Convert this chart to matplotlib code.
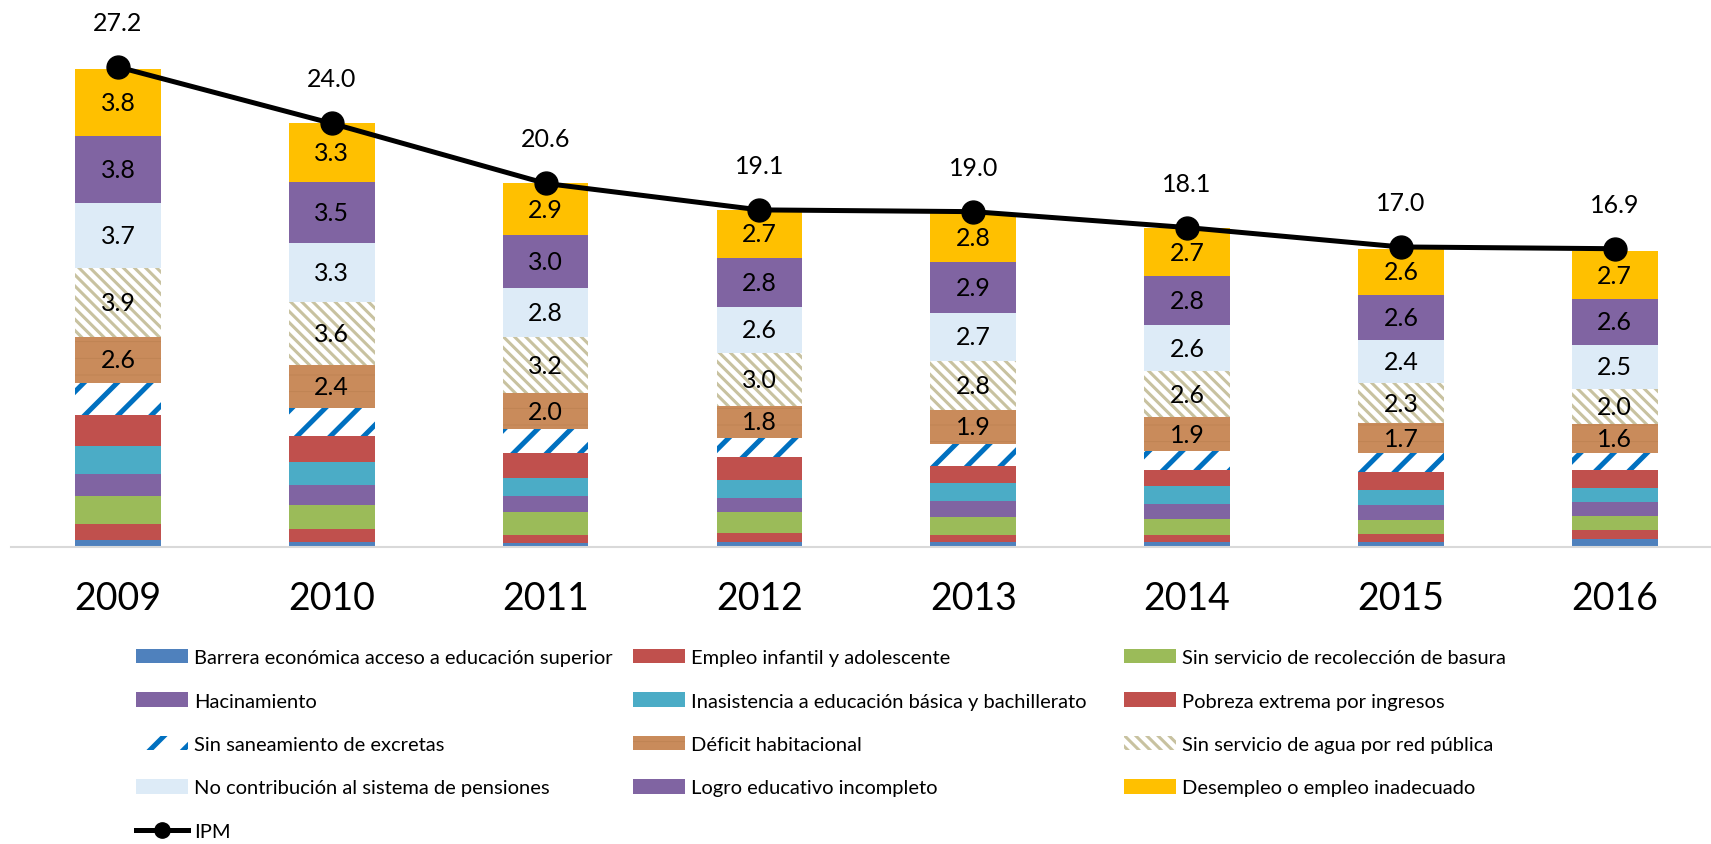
import numpy as np
import matplotlib
matplotlib.use("Agg")
import matplotlib.pyplot as plt
from matplotlib.lines import Line2D

plt.rcParams['font.family'] = ['Lato', 'DejaVu Sans']

# ---------------- Data ----------------
years = ["2009", "2010", "2011", "2012", "2013", "2014", "2015", "2016"]

barrera = [0.4, 0.3, 0.2, 0.3, 0.3, 0.3, 0.3, 0.45]
empleo_inf = [0.9, 0.7, 0.5, 0.5, 0.4, 0.4, 0.45, 0.5]
basura = [1.6, 1.4, 1.3, 1.2, 1.0, 0.9, 0.8, 0.8]
hacinamiento = [1.25, 1.1, 0.9, 0.8, 0.9, 0.85, 0.85, 0.8]
inasistencia = [1.55, 1.3, 1.0, 1.0, 1.0, 1.0, 0.85, 0.8]
pobreza = [1.8, 1.5, 1.4, 1.3, 1.0, 0.9, 1.0, 1.0]
saneamiento = [1.8, 1.6, 1.4, 1.1, 1.25, 1.1, 1.05, 1.0]
deficit = [2.6, 2.4, 2.0, 1.8, 1.9, 1.9, 1.7, 1.6]
agua = [3.9, 3.6, 3.2, 3.0, 2.8, 2.6, 2.3, 2.0]
pensiones = [3.7, 3.3, 2.8, 2.6, 2.7, 2.6, 2.4, 2.5]
logro = [3.8, 3.5, 3.0, 2.8, 2.9, 2.8, 2.6, 2.6]
desempleo = [3.8, 3.3, 2.9, 2.7, 2.8, 2.7, 2.6, 2.7]
ipm = [27.2, 24.0, 20.6, 19.1, 19.0, 18.1, 17.0, 16.9]

# (values, label, face, edge/hatch colour, hatch, hatch lw, show labels)
series = [
    (barrera, "Barrera económica acceso a educación superior", "#4F81BD", "#4F81BD", None, 1, False),
    (empleo_inf, "Empleo infantil y adolescente", "#C0504D", "#C0504D", None, 1, False),
    (basura, "Sin servicio de recolección de basura", "#9BBB59", "#9BBB59", None, 1, False),
    (hacinamiento, "Hacinamiento", "#8064A2", "#8064A2", None, 1, False),
    (inasistencia, "Inasistencia a educación básica y bachillerato", "#4BACC6", "#4BACC6", None, 1, False),
    (pobreza, "Pobreza extrema por ingresos", "#C0504D", "#C0504D", None, 1, False),
    (saneamiento, "Sin saneamiento de excretas", "white", "#0070C0", "/", 3.6, False),
    (deficit, "Déficit habitacional", "#C98B5B", "#BE8253", "-", 0.6, True),
    (agua, "Sin servicio de agua por red pública", "white", "#C8C2A0", "\\\\\\", 2.2, True),
    (pensiones, "No contribución al sistema de pensiones", "#DDEBF7", "#DDEBF7", None, 1, True),
    (logro, "Logro educativo incompleto", "#8064A2", "#8064A2", None, 1, True),
    (desempleo, "Desempleo o empleo inadecuado", "#FFC000", "#FFC000", None, 1, True),
]

W, H = 1711, 845
fig = plt.figure(figsize=(W / 100, H / 100), dpi=100)
ax = fig.add_axes([11 / W, 1 - 548 / H, 1 - 11 / W, 30 * 17.65 / H])

x = np.arange(len(years))
bottom = np.zeros(len(years))
handles = []
for vals, lab, fc, ec, hatch, hlw, show in series:
    plt.rcParams['hatch.linewidth'] = hlw
    bars = ax.bar(x, vals, 0.40, bottom=bottom, color=fc, edgecolor=ec,
                  hatch=hatch, linewidth=0, label=lab, zorder=2)
    for p in bars.patches:
        if hasattr(p, 'set_hatch_linewidth'):
            p.set_hatch_linewidth(hlw)
    handles.append(bars)
    if show:
        for xi, b, v in zip(x, bottom, vals):
            ax.text(xi, b + v / 2, f"{v:.1f}", ha='center', va='center',
                    fontsize=18, color='black', zorder=4)
    bottom = bottom + np.array(vals)

# IPM line
ax.plot(x, ipm, color='black', lw=3.6, marker='o', markersize=16.5, zorder=5)
for xi, v in zip(x, ipm):
    ax.annotate(f"{v:.1f}", xy=(xi, v), xytext=(0, 32), textcoords='offset points',
                ha='center', va='center', fontsize=18)

ax.set_xlim(-0.5, 7.45)
ax.set_ylim(0, 30)
ax.set_xticks(x)
ax.set_xticklabels(years, fontsize=27)
ax.tick_params(axis='x', length=0, pad=24)
ax.set_yticks([])
for s in ['top', 'right', 'left']:
    ax.spines[s].set_visible(False)
ax.spines['bottom'].set_color('#D9D9D9')
ax.spines['bottom'].set_linewidth(1.5)

# ---------------- Legend (3 columns, row-major order) ----------------
ipm_handle = Line2D([], [], color='black', lw=3.6, marker='o', markersize=11)
cols = [
    ([handles[0], handles[3], handles[6], handles[9], ipm_handle],
     [series[0][1], series[3][1], series[6][1], series[9][1], "IPM"], 136),
    ([handles[1], handles[4], handles[7], handles[10]],
     [series[1][1], series[4][1], series[7][1], series[10][1]], 633),
    ([handles[2], handles[5], handles[8], handles[11]],
     [series[2][1], series[5][1], series[8][1], series[11][1]], 1124),
]
hlws = {0: 1, 3: 1, 6: 3.6, 9: 1, 1: 1, 4: 1, 7: 0.6, 10: 1, 2: 1, 5: 1, 8: 2.2, 11: 1}
for hs, labs, xpx in cols:
    leg = fig.legend(hs, labs, loc='upper left', bbox_to_anchor=(xpx / W, 1 - 650 / H),
                     frameon=False, fontsize=14.5, borderpad=0, borderaxespad=0,
                     handlelength=2.6, handleheight=0.72, handletextpad=0.28,
                     labelspacing=1.30)
    for h, orig in zip(leg.legend_handles, hs):
        if orig in handles and hasattr(h, 'set_hatch_linewidth'):
            h.set_hatch_linewidth(hlws[handles.index(orig)])

fig.savefig("out.png", dpi=100)
